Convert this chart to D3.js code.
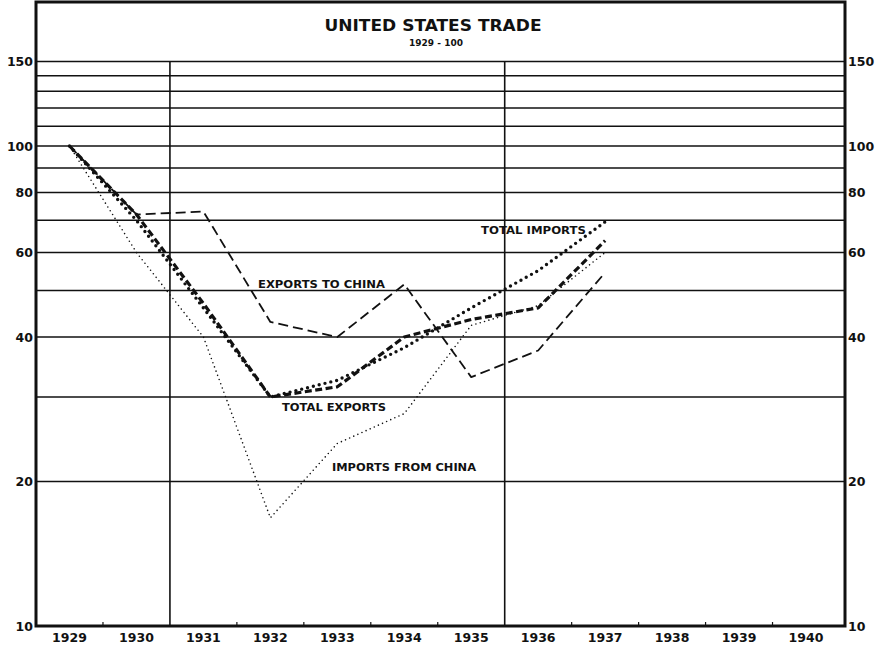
<!DOCTYPE html>
<html>
<head>
<meta charset="utf-8">
<script src="https://cdn.jsdelivr.net/npm/d3@7"></script>
<style>
  body { margin: 0; background: #fff; }
  svg { display: block; }
  text { font-family: "DejaVu Sans", sans-serif; font-weight: bold; fill: #111; }
</style>
</head>
<body>
<svg id="chart" width="881" height="649"></svg>
<script>
// values, 1929 = 100
const years = [1929, 1930, 1931, 1932, 1933, 1934, 1935, 1936, 1937];
const axisYears = [1929, 1930, 1931, 1932, 1933, 1934, 1935, 1936, 1937, 1938, 1939, 1940];
const totalExports = [100, 72, 47, 30, 31.5, 40, 43.5, 46, 63.5];
const totalImports = [100, 70, 46, 30, 32.5, 38, 46, 55, 69.5];
const exportsToChina = [100, 72, 73, 43, 40, 51.5, 33, 37.5, 54.5];
const importsFromChina = [100, 60, 40, 16.8, 24, 27.7, 42.3, 46.5, 60];
const gridValues = [20, 30, 40, 50, 60, 70, 80, 90, 100, 110, 120, 130, 140, 150];
const tickValues = [10, 20, 40, 60, 80, 100, 150];
const dividers = [1930.5, 1935.5];
const halfTicks = [1929.5, 1931.5, 1932.5, 1933.5, 1934.5, 1936.5, 1937.5, 1938.5, 1939.5];

const svg = d3.select("#chart");
const frameLeft = 36, frameRight = 845, frameTop = 2;

const x = d3.scaleLinear().domain([1929, 1940]).range([69.5, 806]);
const y = d3.scaleLog().domain([10, 100]).range([626, 146]);
const frameBottom = y(10);

// horizontal grid
svg.selectAll(".grid")
    .data(gridValues)
    .enter()
    .append("line")
    .attr("x1", frameLeft).attr("x2", frameRight)
    .attr("y1", d => y(d)).attr("y2", d => y(d))
    .attr("stroke", "#111")
    .attr("stroke-width", 1.5);

// the two vertical dividers
svg.selectAll(".divider")
    .data(dividers)
    .enter()
    .append("line")
    .attr("x1", d => x(d)).attr("x2", d => x(d))
    .attr("y1", y(150)).attr("y2", frameBottom)
    .attr("stroke", "#111")
    .attr("stroke-width", 1.6);

// small ticks on the bottom axis
svg.selectAll(".htick")
    .data(halfTicks)
    .enter()
    .append("line")
    .attr("x1", d => x(d)).attr("x2", d => x(d))
    .attr("y1", frameBottom - 4).attr("y2", frameBottom)
    .attr("stroke", "#111")
    .attr("stroke-width", 1.2);

// frame
svg.append("rect")
    .attr("x", frameLeft).attr("y", frameTop)
    .attr("width", frameRight - frameLeft).attr("height", frameBottom - frameTop)
    .attr("fill", "none")
    .attr("stroke", "#111")
    .attr("stroke-width", 3);

// y tick labels, both sides
svg.selectAll(".ylab-l")
    .data(tickValues)
    .enter()
    .append("text")
    .attr("x", 33)
    .attr("y", d => y(d) + 4.5)
    .attr("text-anchor", "end")
    .style("font-size", "12.5px")
    .text(d => d);

svg.selectAll(".ylab-r")
    .data(tickValues)
    .enter()
    .append("text")
    .attr("x", 848)
    .attr("y", d => y(d) + 4.5)
    .attr("text-anchor", "start")
    .style("font-size", "12.5px")
    .text(d => d);

// x labels
svg.selectAll(".xlab")
    .data(axisYears)
    .enter()
    .append("text")
    .attr("x", d => x(d))
    .attr("y", 642)
    .attr("text-anchor", "middle")
    .style("font-size", "12.5px")
    .text(d => d);

// title
svg.append("text")
    .attr("x", 433).attr("y", 31)
    .attr("text-anchor", "middle")
    .attr("textLength", 217)
    .attr("lengthAdjust", "spacingAndGlyphs")
    .style("font-size", "15px")
    .text("UNITED STATES TRADE");

svg.append("text")
    .attr("x", 436).attr("y", 46)
    .attr("text-anchor", "middle")
    .style("font-size", "9px")
    .text("1929 - 100");

// series
const line = vals => d3.line()
    .x((d, i) => x(years[i]))
    .y(d => y(d))(vals);

const series = [
    { vals: importsFromChina, width: 1.6, dash: "0,4.5", cap: "round" },
    { vals: exportsToChina, width: 1.8, dash: "10,5", cap: "butt" },
    { vals: totalImports, width: 3.4, dash: "0,6", cap: "round" },
    { vals: totalExports, width: 3.2, dash: "7,3.5", cap: "butt" }
];

svg.selectAll(".series")
    .data(series)
    .enter()
    .append("path")
    .attr("d", d => line(d.vals))
    .attr("fill", "none")
    .attr("stroke", "#111")
    .attr("stroke-width", d => d.width)
    .attr("stroke-dasharray", d => d.dash)
    .attr("stroke-linecap", d => d.cap)
    .attr("stroke-linejoin", "round");

// inline labels
const labels = [
    { text: "TOTAL IMPORTS", x: 481, y: 234, w: 105 },
    { text: "EXPORTS TO CHINA", x: 258, y: 288, w: 127 },
    { text: "TOTAL EXPORTS", x: 282, y: 411, w: 104 },
    { text: "IMPORTS FROM CHINA", x: 332, y: 471, w: 144 }
];

svg.selectAll(".lab")
    .data(labels)
    .enter()
    .append("text")
    .attr("x", d => d.x)
    .attr("y", d => d.y)
    .attr("textLength", d => d.w)
    .attr("lengthAdjust", "spacingAndGlyphs")
    .style("font-size", "11px")
    .text(d => d.text);
</script>
</body>
</html>
